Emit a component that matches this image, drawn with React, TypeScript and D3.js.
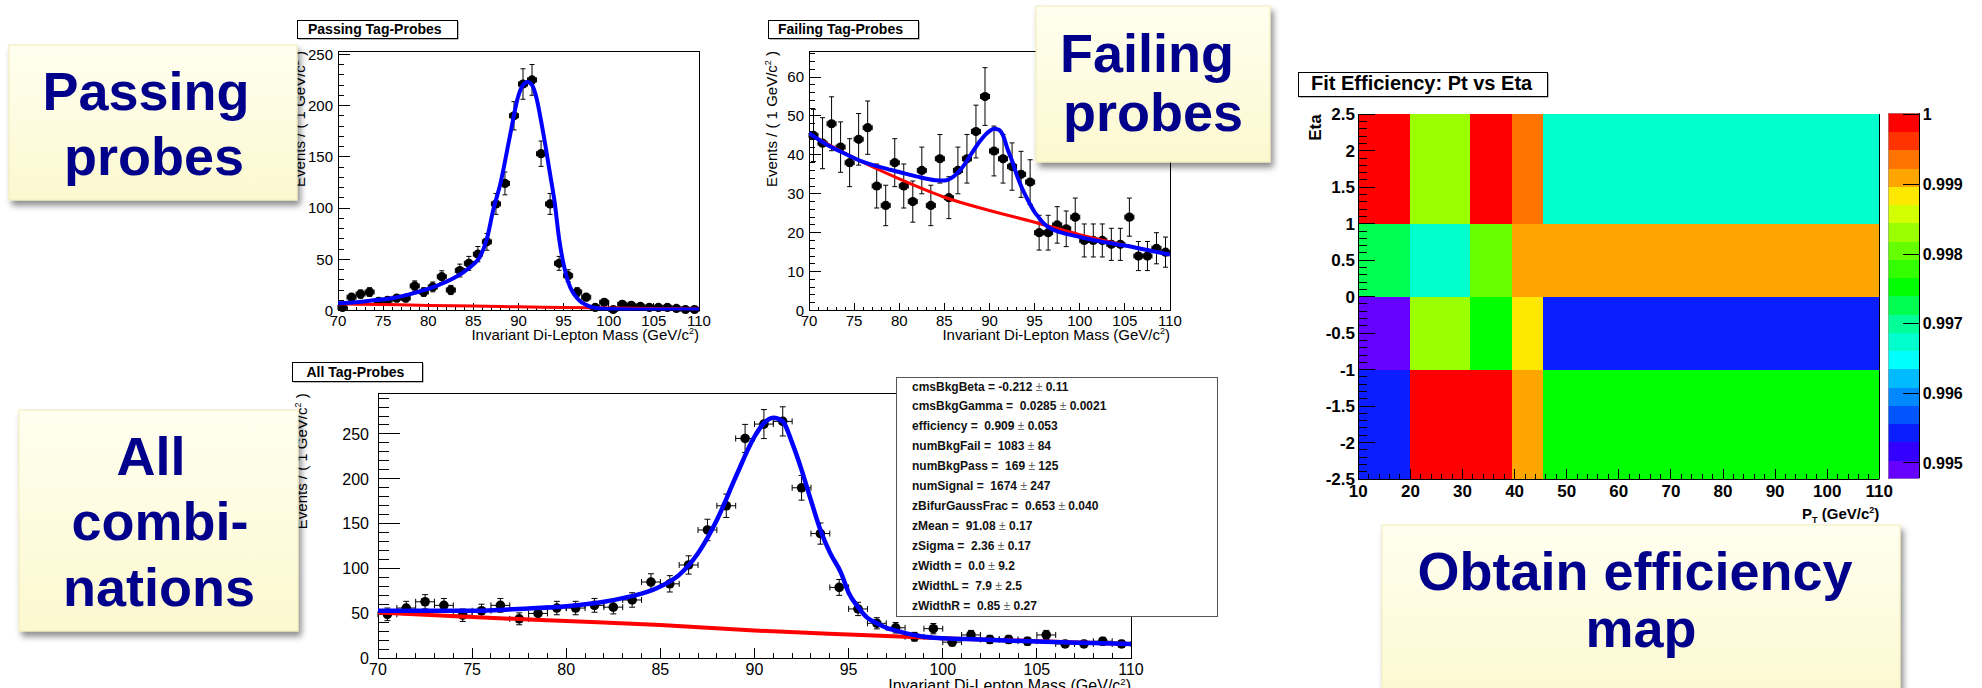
import React from "react";
import * as d3 from "d3";

const FONT = "'Liberation Sans', Arial, Helvetica, sans-serif";
const NAVY = "#00008b";

// ---- Tag-and-probe di-lepton mass histograms: 1 GeV bins from 70 to 110 GeV/c² ----
const massBinCenters = d3.range(70.5, 110, 1);
const massTicks = [70, 75, 80, 85, 90, 95, 100, 105, 110];

const passCounts = [3, 13, 16, 18, 9, 10, 12, 12, 24, 18, 23, 33, 20, 39, 46, 55, 67, 104, 124, 190, 221, 225, 153, 104, 46, 34, 18, 13, 3, 8, 1, 6, 5, 4, 3, 3, 3, 2, 1, 1];
const failCounts = [45, 43, 48, 42, 38, 44, 47, 32, 27, 38, 32, 28, 36, 27, 39, 29, 36, 39, 46, 55, 41, 39, 37, 35, 33, 20, 20, 22, 21, 24, 18, 18, 18, 17, 17, 24, 14, 14, 16, 15];
const allCounts = [49, 56, 63, 59, 48, 53, 59, 44, 50, 56, 56, 59, 57, 65, 85, 83, 104, 143, 170, 245, 261, 264, 190, 139, 79, 55, 39, 34, 24, 33, 18, 26, 21, 21, 19, 26, 16, 16, 19, 16];

// Fitted model (signal + background) and background component, sampled along the mass axis
const passFitMass = [70, 72, 74, 76, 78, 80, 82, 84, 85, 85.7, 86.5, 87.2, 88, 89, 90, 90.5, 91, 91.5, 92, 92.5, 93, 93.5, 94, 94.5, 95, 95.5, 96, 96.5, 97, 97.5, 98, 99, 100, 105, 110];
const passFitValue = [7, 8, 10, 12, 16, 21, 28, 38, 45, 52, 70, 98, 124, 168, 210, 220, 223, 220, 207, 185, 160, 133, 106, 70, 45, 28, 18, 12, 8, 5.5, 3.5, 2, 1.5, 1, 1];
const passBkgMass = [70, 75, 80, 85, 90, 95, 100, 105, 110];
const passBkgValue = [6.5, 5.8, 5, 4.3, 3.6, 3, 2.4, 1.9, 1.5];

const failFitMass = [70, 72, 74, 76, 78, 80, 82, 84, 85, 86, 87, 88, 89, 90, 90.5, 91, 91.5, 92, 92.5, 93, 93.5, 94, 94.5, 95, 95.5, 96, 97, 98, 100, 102, 105, 108, 110];
const failFitValue = [45.6, 42.6, 40.3, 38.2, 36.8, 35.6, 34.4, 33.5, 33.4, 34.4, 36.8, 40.3, 43.7, 46.1, 46.7, 46.5, 45, 41.5, 38.5, 35, 32, 29.5, 27.3, 25.3, 23.8, 22.4, 20.8, 20, 18.9, 17.9, 16.7, 15.3, 14.4];
const failBkgMass = [70, 75, 80, 85, 90, 95, 100, 105, 110];
const failBkgValue = [45.4, 39.2, 33.8, 29.1, 25.7, 22.7, 19.5, 16.8, 14.4];

const allFitMass = [70, 72, 75, 78, 80, 82, 83, 84, 85, 86, 87, 88, 89, 90, 90.5, 91, 91.5, 92, 92.5, 93, 93.5, 94, 94.6, 95, 95.5, 96, 96.5, 97, 97.5, 98, 99, 100, 102, 105, 108, 110];
const allFitValue = [53, 53, 53, 55.5, 58, 63, 67, 72, 80, 93, 117, 154, 202, 247, 262, 268, 264, 240, 210, 176, 143, 118, 95, 73, 57, 45, 39, 34, 31, 28, 24, 22.4, 21, 18.6, 17, 16];
const allBkgMass = [70, 75, 80, 85, 90, 95, 100, 105, 110];
const allBkgValue = [51, 46, 41.5, 37, 31, 26.5, 22.4, 19, 16];

// Simultaneous fit results
const fitParamNames = ["cmsBkgBeta", "cmsBkgGamma", "efficiency", "numBkgFail", "numBkgPass", "numSignal", "zBifurGaussFrac", "zMean", "zSigma", "zWidth", "zWidthL", "zWidthR"];
const fitParamValues = ["-0.212", "0.0285", "0.909", "1083", "169", "1674", "0.653", "91.08", "2.36", "0.0", "7.9", "0.85"];
const fitParamErrors = ["0.11", "0.0021", "0.053", "84", "125", "247", "0.040", "0.17", "0.17", "9.2", "2.5", "0.27"];

// ---- Efficiency map, Pt vs Eta ----
const ptEdges = [10, 20, 31.5, 39.5, 45.5, 110];
const etaEdges = [-2.5, -1, 0, 1, 2.5];
// rows follow etaEdges from the bottom, columns follow ptEdges
const efficiencyRows = [
  [0.99543, 0.99988, 0.99988, 0.9991, 0.99753],
  [0.99491, 0.99831, 0.99753, 0.99884, 0.99543],
  [0.99727, 0.99674, 0.99805, 0.9991, 0.9991],
  [0.99988, 0.99831, 0.99988, 0.99936, 0.99674],
];
const ptTicks = [10, 20, 30, 40, 50, 60, 70, 80, 90, 100, 110];
const etaTicks = [-2.5, -2, -1.5, -1, -0.5, 0, 0.5, 1, 1.5, 2, 2.5];
const effRange: [number, number] = [0.99478, 1.00002];
const colorbarTicks = [0.995, 0.996, 0.997, 0.998, 0.999, 1];
const paletteColors = [
  "#6600ff", "#3300ff", "#0a1eff", "#0055ff", "#0088ff", "#00bbff", "#00ffff", "#00ffcc", "#00ff99", "#00ff50",
  "#00ff00", "#33ff00", "#66ff00", "#9cff00", "#d4ff00", "#ffe800", "#ffa500", "#ff7300", "#ff3300", "#ff0000",
];

type PlotProps = {
  id: string;
  left: number; right: number; top: number; bottom: number;
  yMax: number; yTicks: number[]; yMinorStep: number;
  yMajorLen: number; yMinorLen: number; xMajorLen: number; xMinorLen: number;
  counts: number[];
  fitMass: number[]; fitValue: number[]; bkgMass: number[]; bkgValue: number[];
  labelSize: number; yLabelRight: number; xLabelBaseline: number;
  xTitleBaseline: number; xTitleSize: number;
  yTitleX: number;
  title: string; titleBox: [number, number, number, number]; titleTextX: number; titleBaseline: number;
  markerR: number; fitWidth: number; bkgWidth: number; capLen: number;
};

function MassPlot(p: PlotProps) {
  const x = d3.scaleLinear().domain([70, 110]).range([p.left, p.right]);
  const y = d3.scaleLinear().domain([0, p.yMax]).range([p.bottom, p.top]);
  const line = d3
    .line<[number, number]>()
    .x((d) => x(d[0]))
    .y((d) => y(d[1]))
    .curve(d3.curveMonotoneX);
  const fitPts = p.fitMass.map((m, i) => [m, p.fitValue[i]] as [number, number]);
  const bkgPts = p.bkgMass.map((m, i) => [m, p.bkgValue[i]] as [number, number]);
  const yMinors = d3
    .range(0, p.yMax, p.yMinorStep)
    .filter((v) => !p.yTicks.some((t) => Math.abs(t - v) < 1e-6));
  const xMinors = d3.range(70, 110, 1).filter((v) => !massTicks.includes(v));
  const clipId = `${p.id}-clip`;
  const [tbx, tby, tbw, tbh] = p.titleBox;
  const half = 0.5;

  return (
    <g>
      <defs>
        <clipPath id={clipId}>
          <rect x={p.left} y={p.top} width={p.right - p.left} height={p.bottom - p.top} />
        </clipPath>
      </defs>

      {/* pave title */}
      <rect x={tbx + 1.5} y={tby + 1.5} width={tbw} height={tbh} fill="#777" />
      <rect x={tbx} y={tby} width={tbw} height={tbh} fill="#fff" stroke="#000" strokeWidth={1} shapeRendering="crispEdges" />
      <text x={p.titleTextX} y={p.titleBaseline} fontSize={14} fontWeight="bold" fill="#000">
        {p.title}
      </text>

      {/* frame and ticks */}
      <rect x={p.left} y={p.top} width={p.right - p.left} height={p.bottom - p.top} fill="none" stroke="#000" strokeWidth={1} shapeRendering="crispEdges" />
      <g stroke="#000" strokeWidth={1} shapeRendering="crispEdges">
        {p.yTicks.map((t) => (
          <line key={`ym${t}`} x1={p.left} x2={p.left + p.yMajorLen} y1={y(t)} y2={y(t)} />
        ))}
        {yMinors.map((t) => (
          <line key={`yn${t}`} x1={p.left} x2={p.left + p.yMinorLen} y1={y(t)} y2={y(t)} />
        ))}
        {massTicks.map((t) => (
          <line key={`xm${t}`} x1={x(t)} x2={x(t)} y1={p.bottom} y2={p.bottom - p.xMajorLen} />
        ))}
        {xMinors.map((t) => (
          <line key={`xn${t}`} x1={x(t)} x2={x(t)} y1={p.bottom} y2={p.bottom - p.xMinorLen} />
        ))}
      </g>
      <g fontSize={p.labelSize} fill="#000">
        {p.yTicks.map((t) => (
          <text key={`yl${t}`} x={p.yLabelRight} y={y(t)} dy="0.36em" textAnchor="end">
            {t}
          </text>
        ))}
        {massTicks.map((t) => (
          <text key={`xl${t}`} x={x(t)} y={p.xLabelBaseline} textAnchor="middle">
            {t}
          </text>
        ))}
      </g>

      {/* axis titles */}
      <text x={p.right} y={p.xTitleBaseline} fontSize={p.xTitleSize} textAnchor="end" fill="#000">
        Invariant Di-Lepton Mass (GeV/c
        <tspan dy={-6} fontSize={p.xTitleSize * 0.6}>2</tspan>
        <tspan dy={6}>)</tspan>
      </text>
      <text transform={`translate(${p.yTitleX},${p.top}) rotate(-90)`} fontSize={15} textAnchor="end" fill="#000">
        Events / ( 1 GeV/c
        <tspan dy={-6} fontSize={9}>2</tspan>
        <tspan dy={6}> )</tspan>
      </text>

      {/* data points with Poisson errors */}
      <g stroke="#000" strokeWidth={1} fill="#000">
        {p.counts.map((c, i) => {
          const m = massBinCenters[i];
          const err = Math.sqrt(c);
          const cx = x(m);
          const cy = y(c);
          const yHi = y(c + err);
          const yLo = y(Math.max(0, c - err));
          const xL = x(m - half);
          const xR = x(m + half);
          const k = p.capLen / 2;
          return (
            <g key={`pt${i}`}>
              <line x1={cx} x2={cx} y1={yHi} y2={yLo} />
              <line x1={cx - k} x2={cx + k} y1={yHi} y2={yHi} />
              <line x1={cx - k} x2={cx + k} y1={yLo} y2={yLo} />
              <line x1={xL} x2={xR} y1={cy} y2={cy} />
              <line x1={xL} x2={xL} y1={cy - k} y2={cy + k} />
              <line x1={xR} x2={xR} y1={cy - k} y2={cy + k} />
              <circle cx={cx} cy={cy} r={p.markerR} stroke="none" />
            </g>
          );
        })}
      </g>

      {/* fit curves */}
      <g clipPath={`url(#${clipId})`} fill="none">
        <path d={line(bkgPts) ?? ""} stroke="#ff0000" strokeWidth={p.bkgWidth} />
        <path d={line(fitPts) ?? ""} stroke="#0000ff" strokeWidth={p.fitWidth} />
      </g>
    </g>
  );
}

function FitLegend() {
  const left = 896;
  const top = 377;
  const w = 321;
  const h = 239;
  return (
    <g>
      <rect x={left} y={top} width={w} height={h} fill="#fff" stroke="#555" strokeWidth={1} shapeRendering="crispEdges" />
      {fitParamNames.map((name, i) => {
        const v = fitParamValues[i];
        const lhs = `${name} = ${v.startsWith("-") ? v : " " + v}`;
        return (
          <text key={name} x={912} y={390.5 + i * 19.95} fontSize={12} fontWeight="bold" fill="#111" style={{ whiteSpace: "pre" }}>
            {lhs}
            <tspan fontWeight="normal" fill="#666"> ± </tspan>
            {fitParamErrors[i]}
          </text>
        );
      })}
    </g>
  );
}

function EfficiencyMap() {
  const left = 1358.3;
  const right = 1879.3;
  const top = 114.3;
  const bottom = 479;
  const x = d3.scaleLinear().domain([10, 110]).range([left, right]);
  const y = d3.scaleLinear().domain([-2.5, 2.5]).range([bottom, top]);
  const color = d3.scaleQuantize<string>().domain(effRange).range(paletteColors);

  const cbLeft = 1888.3;
  const cbRight = 1919.3;
  const cbTop = 113.3;
  const cbBottom = 478.3;
  const cy = d3.scaleLinear().domain(effRange).range([cbBottom, cbTop]);
  const bandStep = (effRange[1] - effRange[0]) / paletteColors.length;

  const etaMinors = d3.range(-2.5, 2.5001, 0.1).filter((v) => !etaTicks.some((t) => Math.abs(t - v) < 1e-6));
  const ptMinors = d3.range(10, 110.001, 2).filter((v) => !ptTicks.some((t) => Math.abs(t - v) < 1e-6));

  return (
    <g>
      {/* pave title */}
      <rect x={1299.5} y={73.5} width={249} height={24} fill="#777" />
      <rect x={1298} y={72} width={249} height={24} fill="#fff" stroke="#000" strokeWidth={1} shapeRendering="crispEdges" />
      <text x={1311} y={89.5} fontSize={20} fontWeight="bold" fill="#000">
        Fit Efficiency: Pt vs Eta
      </text>

      {/* cells */}
      <g shapeRendering="crispEdges">
        {efficiencyRows.map((row, r) =>
          row.map((v, c) => (
            <rect
              key={`c${r}-${c}`}
              x={x(ptEdges[c])}
              y={y(etaEdges[r + 1])}
              width={x(ptEdges[c + 1]) - x(ptEdges[c]) + 0.5}
              height={y(etaEdges[r]) - y(etaEdges[r + 1]) + 0.5}
              fill={color(v)}
            />
          ))
        )}
      </g>

      {/* axes */}
      <g stroke="#000" strokeWidth={1} shapeRendering="crispEdges">
        <line x1={left} x2={left} y1={top} y2={bottom} />
        <line x1={left} x2={right} y1={bottom} y2={bottom} />
        <line x1={right} x2={right} y1={top} y2={bottom} />
        {etaTicks.map((t) => (
          <line key={`em${t}`} x1={left} x2={left + 16.5} y1={y(t)} y2={y(t)} />
        ))}
        {etaMinors.map((t) => (
          <line key={`en${t.toFixed(1)}`} x1={left} x2={left + 9} y1={y(t)} y2={y(t)} />
        ))}
        {ptTicks.map((t) => (
          <line key={`pm${t}`} x1={x(t)} x2={x(t)} y1={bottom} y2={bottom - 10} />
        ))}
        {ptMinors.map((t) => (
          <line key={`pn${t}`} x1={x(t)} x2={x(t)} y1={bottom} y2={bottom - 5} />
        ))}
      </g>
      <g fontSize={17} fontWeight="bold" fill="#000">
        {etaTicks.map((t) => (
          <text key={`el${t}`} x={1355} y={y(t)} dy="0.36em" textAnchor="end">
            {String(t)}
          </text>
        ))}
        {ptTicks.map((t) => (
          <text key={`pl${t}`} x={x(t)} y={497} textAnchor="middle">
            {t}
          </text>
        ))}
      </g>
      <text transform={`translate(1321,${top}) rotate(-90)`} fontSize={17} fontWeight="bold" textAnchor="end" fill="#000">
        Eta
      </text>
      <text x={right} y={519} fontSize={15} fontWeight="bold" textAnchor="end" fill="#000">
        P<tspan dy={4} fontSize={9}>T</tspan>
        <tspan dy={-4}> (GeV/c</tspan>
        <tspan dy={-6} fontSize={9}>2</tspan>
        <tspan dy={6}>)</tspan>
      </text>

      {/* palette axis */}
      <g shapeRendering="crispEdges">
        {paletteColors.map((c, i) => {
          const lo = effRange[0] + i * bandStep;
          return (
            <rect key={`b${i}`} x={cbLeft} y={cy(lo + bandStep)} width={cbRight - cbLeft} height={cy(lo) - cy(lo + bandStep) + 0.5} fill={c} />
          );
        })}
        <rect x={cbLeft} y={cbTop} width={cbRight - cbLeft} height={cbBottom - cbTop} fill="none" stroke="#999" strokeWidth={0.6} />
        <line x1={cbRight} x2={cbRight} y1={cbTop} y2={cbBottom} stroke="#000" strokeWidth={1} />
        {colorbarTicks.map((t) => (
          <line key={`ct${t}`} x1={cbRight - 16} x2={cbRight} y1={cy(t)} y2={cy(t)} stroke="#000" strokeWidth={1} />
        ))}
      </g>
      <g fontSize={16} fontWeight="bold" fill="#000">
        {colorbarTicks.map((t) => (
          <text key={`cl${t}`} x={1922.7} y={cy(t)} dy="0.36em">
            {String(t)}
          </text>
        ))}
      </g>
    </g>
  );
}

type CalloutLine = { text: string; cx: number; baseline: number };

function Callout({ x, y, w, h, lines }: { x: number; y: number; w: number; h: number; lines: CalloutLine[] }) {
  return (
    <g>
      <rect x={x} y={y} width={w} height={h} fill="url(#calloutFill)" stroke="#f1ecb8" strokeWidth={1} filter="url(#calloutShadow)" />
      {lines.map((l) => (
        <text key={l.text} x={l.cx} y={l.baseline} textAnchor="middle" fontSize={54} fontWeight="bold" fill={NAVY}>
          {l.text}
        </text>
      ))}
    </g>
  );
}

export default function App() {
  return (
    <svg
      width={1982}
      height={688}
      viewBox="0 0 1982 688"
      style={{ position: "absolute", left: 0, top: 0, background: "#fff" }}
      fontFamily={FONT}
    >
      <defs>
        <linearGradient id="calloutFill" x1="0" y1="0" x2="0" y2="1">
          <stop offset="0" stopColor="#fffff0" />
          <stop offset="1" stopColor="#fcf8cf" />
        </linearGradient>
        <filter id="calloutShadow" x="-10%" y="-10%" width="130%" height="140%">
          <feDropShadow dx="3" dy="5" stdDeviation="3" floodColor="#000" floodOpacity="0.45" />
        </filter>
      </defs>
      <rect width={1982} height={688} fill="#fff" />

      <MassPlot
        id="pass"
        left={338}
        right={699}
        top={51}
        bottom={310.5}
        yMax={253.2}
        yTicks={[0, 50, 100, 150, 200, 250]}
        yMinorStep={10}
        yMajorLen={11.5}
        yMinorLen={6}
        xMajorLen={8}
        xMinorLen={4}
        counts={passCounts}
        fitMass={passFitMass}
        fitValue={passFitValue}
        bkgMass={passBkgMass}
        bkgValue={passBkgValue}
        labelSize={15}
        yLabelRight={333}
        xLabelBaseline={325.5}
        xTitleBaseline={340}
        xTitleSize={15}
        yTitleX={304.5}
        title="Passing Tag-Probes"
        titleBox={[297, 20, 160, 18]}
        titleTextX={308}
        titleBaseline={34}
        markerR={4.6}
        fitWidth={4}
        bkgWidth={3}
        capLen={5}
      />

      <MassPlot
        id="fail"
        left={809}
        right={1170}
        top={51}
        bottom={310.5}
        yMax={66.7}
        yTicks={[0, 10, 20, 30, 40, 50, 60]}
        yMinorStep={2}
        yMajorLen={11.5}
        yMinorLen={6}
        xMajorLen={8}
        xMinorLen={4}
        counts={failCounts}
        fitMass={failFitMass}
        fitValue={failFitValue}
        bkgMass={failBkgMass}
        bkgValue={failBkgValue}
        labelSize={15}
        yLabelRight={804}
        xLabelBaseline={325.5}
        xTitleBaseline={340}
        xTitleSize={15}
        yTitleX={777}
        title="Failing Tag-Probes"
        titleBox={[768, 20, 150, 18]}
        titleTextX={778}
        titleBaseline={34}
        markerR={4.6}
        fitWidth={4}
        bkgWidth={3}
        capLen={5}
      />

      <MassPlot
        id="all"
        left={378}
        right={1131}
        top={393.3}
        bottom={658.3}
        yMax={295.3}
        yTicks={[0, 50, 100, 150, 200, 250]}
        yMinorStep={10}
        yMajorLen={22}
        yMinorLen={11}
        xMajorLen={10.5}
        xMinorLen={5}
        counts={allCounts}
        fitMass={allFitMass}
        fitValue={allFitValue}
        bkgMass={allBkgMass}
        bkgValue={allBkgValue}
        labelSize={16}
        yLabelRight={369}
        xLabelBaseline={675}
        xTitleBaseline={691}
        xTitleSize={16}
        yTitleX={306.5}
        title="All Tag-Probes"
        titleBox={[292, 362, 130, 19]}
        titleTextX={306.5}
        titleBaseline={376.5}
        markerR={4.8}
        fitWidth={4.5}
        bkgWidth={4}
        capLen={6}
      />
      <FitLegend />

      <EfficiencyMap />

      <Callout
        x={9}
        y={45}
        w={288}
        h={155}
        lines={[
          { text: "Passing", cx: 146, baseline: 110 },
          { text: "probes", cx: 154, baseline: 175 },
        ]}
      />
      <Callout
        x={1036}
        y={6}
        w={234}
        h={156}
        lines={[
          { text: "Failing", cx: 1147, baseline: 72 },
          { text: "probes", cx: 1153, baseline: 131 },
        ]}
      />
      <Callout
        x={19}
        y={410}
        w={279}
        h={221}
        lines={[
          { text: "All", cx: 151, baseline: 475 },
          { text: "combi-", cx: 160, baseline: 540 },
          { text: "nations", cx: 159, baseline: 606 },
        ]}
      />
      <Callout
        x={1382}
        y={525}
        w={518}
        h={180}
        lines={[
          { text: "Obtain efficiency", cx: 1635, baseline: 590 },
          { text: "map", cx: 1641, baseline: 647 },
        ]}
      />
    </svg>
  );
}
